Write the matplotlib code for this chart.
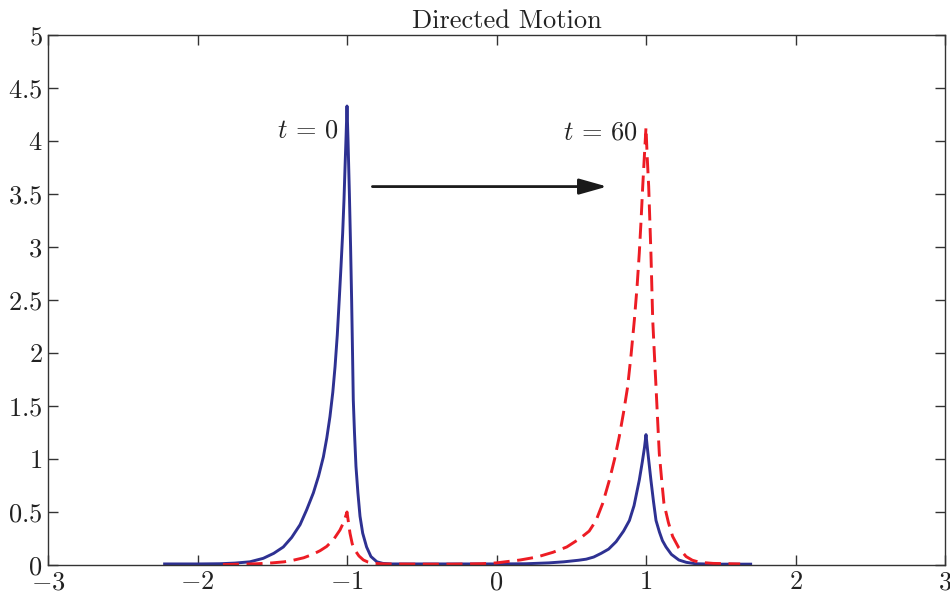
import matplotlib
matplotlib.use("Agg")
import matplotlib.pyplot as plt
from matplotlib.ticker import FixedLocator, FuncFormatter

plt.rcParams['font.family'] = 'serif'
plt.rcParams['font.serif'] = ['cmr10', 'DejaVu Serif']
plt.rcParams['mathtext.fontset'] = 'cm'
plt.rcParams['axes.unicode_minus'] = True

# ---- data ----
blue_x = [-2.22, -2.0, -1.85, -1.75, -1.65, -1.56, -1.49, -1.426, -1.37, -1.314, -1.27,
          -1.225, -1.19, -1.158, -1.135, -1.114, -1.095, -1.08, -1.065, -1.052, -1.04,
          -1.029, -1.02, -1.013, -1.006, -1.0, -0.993, -0.984, -0.976, -0.969, -0.963,
          -0.958, -0.95, -0.94, -0.927, -0.913, -0.895, -0.869, -0.84, -0.80, -0.76,
          -0.7, -0.5, -0.2, 0.0, 0.2, 0.35, 0.45, 0.55, 0.60, 0.65, 0.70, 0.75, 0.80,
          0.85, 0.889, 0.92, 0.955, 0.975, 0.99, 1.0, 1.011, 1.022, 1.033, 1.05, 1.067,
          1.09, 1.11, 1.134, 1.17, 1.22, 1.27, 1.33, 1.45, 1.6, 1.7]
blue_y = [0.01, 0.01, 0.012, 0.018, 0.03, 0.063, 0.11, 0.17, 0.26, 0.38, 0.52,
          0.68, 0.84, 1.02, 1.2, 1.40, 1.63, 1.87, 2.17, 2.50, 2.82,
          3.13, 3.45, 3.76, 4.05, 4.33, 4.0, 3.5, 3.0, 2.5, 2.0,
          1.56, 1.25, 0.93, 0.68, 0.46, 0.30, 0.17, 0.08, 0.03, 0.015,
          0.01, 0.01, 0.01, 0.01, 0.012, 0.02, 0.03, 0.045, 0.055, 0.075, 0.11, 0.15, 0.22,
          0.32, 0.42, 0.56, 0.80, 0.97, 1.11, 1.23, 1.08, 0.94, 0.80, 0.60, 0.42,
          0.31, 0.23, 0.17, 0.10, 0.047, 0.025, 0.012, 0.008, 0.008, 0.008]

red_x = [-1.83, -1.7, -1.6, -1.5, -1.42, -1.36, -1.29, -1.23, -1.18, -1.136, -1.09,
         -1.047, -1.02, -1.0, -0.99, -0.98, -0.965, -0.947, -0.92, -0.89, -0.86, -0.826,
         -0.75, -0.5, -0.3, -0.1, 0.0, 0.157, 0.27, 0.378, 0.47, 0.558, 0.62, 0.666,
         0.71, 0.755, 0.79, 0.821, 0.85, 0.877, 0.90, 0.922, 0.94, 0.955, 0.967, 0.978,
         0.99, 1.0, 1.008, 1.018, 1.033, 1.045, 1.056, 1.067, 1.078, 1.089, 1.105, 1.12,
         1.15, 1.178, 1.22, 1.268, 1.31, 1.36, 1.45, 1.55, 1.63]
red_y = [0.004, 0.008, 0.012, 0.02, 0.03, 0.045, 0.068, 0.1, 0.135, 0.175, 0.24,
         0.33, 0.41, 0.5, 0.4, 0.30, 0.2, 0.14, 0.085, 0.047, 0.028, 0.016,
         0.01, 0.008, 0.008, 0.012, 0.02, 0.047, 0.075, 0.12, 0.17, 0.25, 0.32, 0.42,
         0.58, 0.80, 1.0, 1.21, 1.44, 1.68, 1.98, 2.31, 2.62, 2.94, 3.25, 3.57,
         3.88, 4.13, 3.85, 3.57, 2.94, 2.31, 1.99, 1.68, 1.36, 1.05, 0.8, 0.58,
         0.4, 0.27, 0.16, 0.08, 0.045, 0.025, 0.015, 0.012, 0.01]

x_ticks = [-3, -2, -1, 0, 1, 2, 3]
y_ticks = [0, 0.5, 1, 1.5, 2, 2.5, 3, 3.5, 4, 4.5, 5]
title = "Directed Motion"
label_t0 = r"$t\,=\,0$"
label_t60 = r"$t\,=\,60$"

fig = plt.figure(figsize=(9.5, 5.96), dpi=100)
ax = fig.add_axes([48/950, 1-565/596, 897/950, 530/596])

ax.plot(blue_x, blue_y, color='#2e3192', lw=2.1)
ax.plot(red_x, red_y, color='#ed1c24', lw=2.1, dashes=(5.5, 2.6))

ax.annotate('', xy=(0.74, 3.57), xytext=(-0.83, 3.57),
            arrowprops=dict(arrowstyle='-|>,head_length=0.85,head_width=0.24',
                            color='#1a1a1a', lw=2.0, shrinkA=0, shrinkB=0,
                            mutation_scale=20))
ax.text(-1.06, 4.1, label_t0, ha='right', va='center', fontsize=19, color='#222222')
ax.text(0.94, 4.08, label_t60, ha='right', va='center', fontsize=19, color='#222222')

ax.set_xlim(-3, 3)
ax.set_ylim(0, 5)
ax.xaxis.set_major_locator(FixedLocator(x_ticks))
ax.yaxis.set_major_locator(FixedLocator(y_ticks))
ax.xaxis.set_major_formatter(FuncFormatter(lambda v, p: r'$%g$' % v))
ax.yaxis.set_major_formatter(FuncFormatter(lambda v, p: r'$%g$' % v))
ax.tick_params(direction='in', length=7, width=1, top=True, right=True,
               labelsize=19, pad=4, color='#333333', labelcolor='#222222')
for s in ax.spines.values():
    s.set_color('#333333')
    s.set_linewidth(1.0)

ax.set_title(title, fontsize=19, pad=5, x=0.512, color='#222222')

fig.savefig('out.png', dpi=100)
